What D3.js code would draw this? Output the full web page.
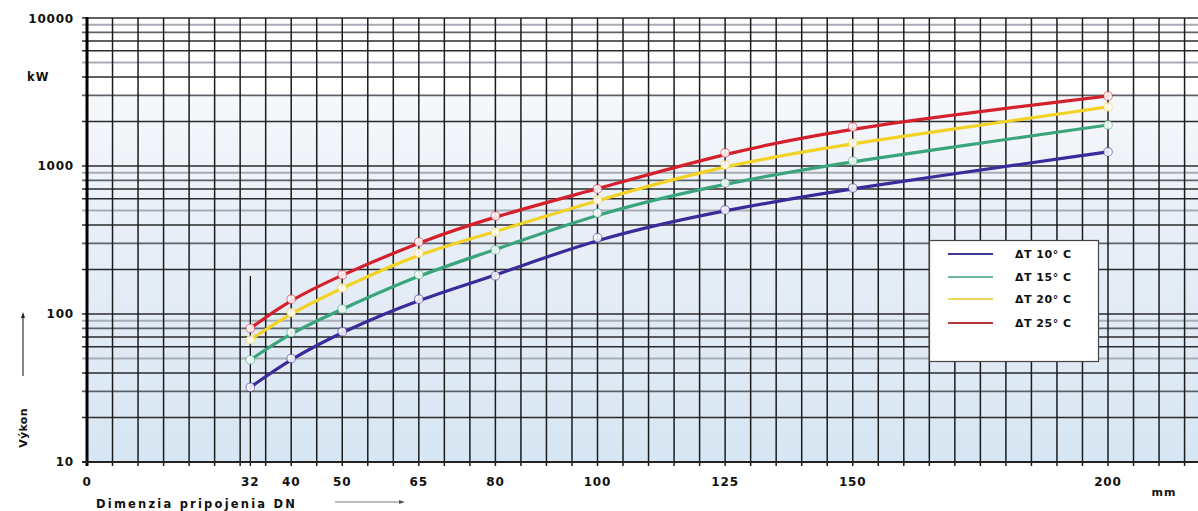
<!DOCTYPE html>
<html>
<head>
<meta charset="utf-8">
<script src="https://cdn.jsdelivr.net/npm/d3@7/dist/d3.min.js"></script>
<style>
  html, body { margin: 0; padding: 0; background: #ffffff; }
  svg { display: block; }
  text { font-family: "DejaVu Sans", Verdana, sans-serif; font-weight: bold; fill: #111; }
</style>
</head>
<body>
<svg id="chart" width="1198" height="511"></svg>
<script>
// ---------------- DATA ----------------
const dnValues = [32, 40, 50, 65, 80, 100, 125, 150, 200];
const xTickLabels = [0, 32, 40, 50, 65, 80, 100, 125, 150, 200];
const yTickLabels = [10, 100, 1000, 10000];
const seriesNames = ["ΔT 10° C", "ΔT 15° C", "ΔT 20° C", "ΔT 25° C"];
const dT10 = [32, 50, 76, 126, 181, 327, 505, 710, 1245];
const dT15 = [49, 75, 108, 184, 271, 481, 768, 1081, 1893];
const dT20 = [67, 102, 150, 258, 358, 590, 1016, 1429, 2506];
const dT25 = [80, 126, 184, 306, 459, 700, 1225, 1837, 2972];
const seriesColors = ["#3b2a99", "#3aa57c", "#f3d226", "#d3202b"];
const legendColors = ["#3d3a8e", "#6db99a", "#efd75a", "#b23a3a"];

// ---------------- LAYOUT ----------------
const W = 1198, H = 511;
const svg = d3.select("#chart");
const x = d3.scaleLinear().domain([0, 200]).range([87, 1108]);
const y = d3.scaleLog().domain([10, 10000]).range([462, 18]);
const plotLeft = 87, plotRight = W, plotTop = 18, plotBottom = 462;
const xMaxData = x.invert(plotRight);

// background gradient
const defs = svg.append("defs");
const grad = defs.append("linearGradient").attr("id", "bg")
  .attr("x1", 0).attr("y1", 0).attr("x2", 0).attr("y2", 1);
[["0%", "#ffffff"], ["17.4%", "#ffffff"], ["17.6%", "#f6f8fb"], ["45%", "#e9eff7"], ["100%", "#d7e6f3"]]
  .forEach(([o, c]) => grad.append("stop").attr("offset", o).attr("stop-color", c));
svg.append("rect").attr("x", plotLeft).attr("y", plotTop)
  .attr("width", plotRight - plotLeft).attr("height", plotBottom - plotTop)
  .attr("fill", "url(#bg)");

// horizontal log grid lines
const hLines = [];
for (let dec = 10; dec < 10000; dec *= 10) {
  for (let k = 1; k <= 9; k++) hLines.push({ v: dec * k, k });
}
hLines.push({ v: 10000, k: 1 });
const hStyle = k => {
  if (k === 5 || k === 9) return { c: "#a8adb5", w: 2 };
  if (k === 3 || k === 8) return { c: "#5e636b", w: 1.6 };
  return { c: "#2b2b2b", w: 1.5 };
};
svg.append("g").selectAll("line").data(hLines).join("line")
  .attr("x1", 82).attr("x2", plotRight)
  .attr("y1", d => y(d.v)).attr("y2", d => y(d.v))
  .attr("stroke", d => hStyle(d.k).c)
  .attr("stroke-width", d => hStyle(d.k).w);

// vertical grid lines every 5 mm
const vLines = d3.range(5, xMaxData, 5);
svg.append("g").selectAll("line").data(vLines).join("line")
  .attr("x1", d => x(d)).attr("x2", d => x(d))
  .attr("y1", plotTop).attr("y2", plotBottom + 4)
  .attr("stroke", "#1c1c1c").attr("stroke-width", 1.5);

// special DN32 marker line
svg.append("line").attr("x1", x(32)).attr("x2", x(32))
  .attr("y1", 276).attr("y2", plotBottom + 4)
  .attr("stroke", "#111").attr("stroke-width", 1.3);

// axes lines
svg.append("line").attr("x1", plotLeft).attr("x2", plotLeft)
  .attr("y1", plotTop - 1).attr("y2", plotBottom + 4)
  .attr("stroke", "#000").attr("stroke-width", 3);
svg.append("line").attr("x1", 82).attr("x2", plotRight)
  .attr("y1", plotBottom).attr("y2", plotBottom)
  .attr("stroke", "#222").attr("stroke-width", 2);

// y tick labels
svg.append("g").selectAll("text").data(yTickLabels).join("text")
  .attr("x", 74).attr("y", d => y(d) + (d === 10000 ? 5 : 4))
  .attr("text-anchor", "end").attr("font-size", 12).attr("letter-spacing", 0.8)
  .text(d => d);
svg.append("text").attr("x", 27).attr("y", 81).attr("font-size", 11.5)
  .attr("letter-spacing", 1.2).text("kW");

// x tick labels
svg.append("g").selectAll("text").data(xTickLabels).join("text")
  .attr("x", d => x(d)).attr("y", 486)
  .attr("text-anchor", "middle").attr("font-size", 12).attr("letter-spacing", 0.9)
  .text(d => d);
svg.append("text").attr("x", 1164).attr("y", 496).attr("text-anchor", "middle")
  .attr("font-size", 11).attr("letter-spacing", 1).text("mm");

// x title + arrow
svg.append("text").attr("x", 96).attr("y", 508).attr("font-size", 11.5)
  .attr("letter-spacing", 2.2).text("Dimenzia pripojenia DN");
svg.append("line").attr("x1", 335).attr("x2", 403).attr("y1", 502).attr("y2", 502)
  .attr("stroke", "#777").attr("stroke-width", 1);
svg.append("path").attr("d", "M399,500 L405,502 L399,504 Z").attr("fill", "#555");

// y title + arrow
svg.append("text").attr("transform", "translate(27,428) rotate(-90)")
  .attr("text-anchor", "middle").attr("font-size", 11).attr("letter-spacing", 0.3)
  .text("Výkon");
svg.append("line").attr("x1", 23).attr("x2", 23).attr("y1", 376).attr("y2", 315)
  .attr("stroke", "#333").attr("stroke-width", 1.2);
svg.append("path").attr("d", "M21,318 L23,312 L25,318 Z").attr("fill", "#222");

// curves
const allSeries = [dT10, dT15, dT20, dT25];
const line = d3.line()
  .x((d, i) => x(dnValues[i]))
  .y(d => y(d))
  .curve(d3.curveBasis);
svg.append("g").selectAll("path").data(allSeries).join("path")
  .attr("d", d => line(d))
  .attr("fill", "none")
  .attr("stroke", (d, i) => seriesColors[i])
  .attr("stroke-width", 3.2)
  .attr("stroke-linecap", "round");

// data circles
allSeries.forEach((s, si) => {
  svg.append("g").selectAll("circle").data(s).join("circle")
    .attr("cx", (d, i) => x(dnValues[i]))
    .attr("cy", d => y(d))
    .attr("r", 4.3)
    .attr("fill", "#ffffff").attr("fill-opacity", 0.85)
    .attr("stroke", seriesColors[si]).attr("stroke-opacity", 0.55)
    .attr("stroke-width", 1.1);
});

// legend
const lg = svg.append("g");
lg.append("rect").attr("x", 929.5).attr("y", 240.5).attr("width", 169).attr("height", 121)
  .attr("fill", "#ffffff").attr("stroke", "#444").attr("stroke-width", 1.2);
const legY = [254, 277, 299, 323];
lg.selectAll("line.leg").data(seriesNames).join("line")
  .attr("class", "leg")
  .attr("x1", 948).attr("x2", 993)
  .attr("y1", (d, i) => legY[i]).attr("y2", (d, i) => legY[i])
  .attr("stroke", (d, i) => legendColors[i]).attr("stroke-width", 2.2);
lg.selectAll("text").data(seriesNames).join("text")
  .attr("x", 1015).attr("y", (d, i) => legY[i] + 4)
  .attr("font-size", 11).attr("letter-spacing", 0.5)
  .text(d => d);
</script>
</body>
</html>
